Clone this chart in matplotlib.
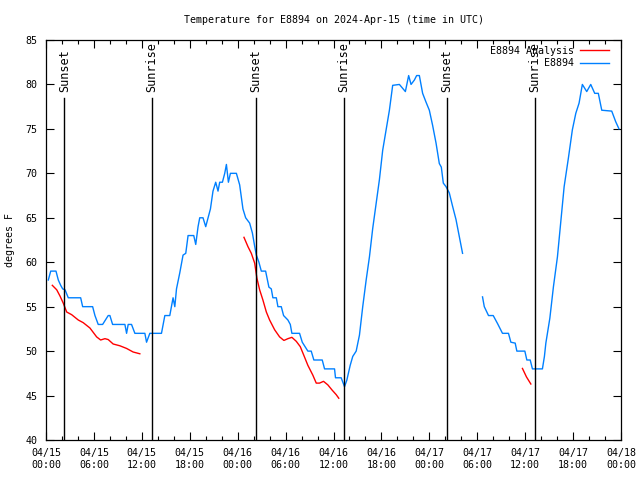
import numpy as np
import matplotlib.pyplot as plt
from matplotlib.ticker import MultipleLocator

# hours since 2024-04-15 00:00 UTC
obs_hours = [0.29, 0.59, 1.25, 1.54, 1.84, 2.09, 2.38, 2.79, 4.34, 4.59, 5.84, 6.13, 6.54,
             7.09, 7.79, 8.0, 8.34, 9.88, 10.09, 10.29, 10.71, 11.13, 12.38, 12.59, 13.0,
             14.46, 14.88, 15.5, 15.91, 16.13, 16.34, 16.75, 17.16, 17.5, 17.79, 18.5, 18.75,
             19.04, 19.25, 19.66, 20.0, 20.29, 20.59, 20.91, 21.25, 21.54, 21.75, 22.09,
             22.38, 22.59, 22.84, 23.09, 23.84, 24.25, 24.66, 25.0, 25.5, 25.84, 26.13,
             26.34, 26.66, 26.96, 27.5, 27.91, 28.21, 28.41, 28.84, 29.04, 29.46, 29.75,
             30.29, 30.59, 30.79, 31.75, 32.09, 32.79, 33.21, 33.54, 34.59, 34.88, 36.13,
             36.25, 36.96, 37.38, 37.66, 38.09, 38.41, 38.84, 39.25, 39.66, 40.09, 40.5,
             40.91, 41.34, 41.75, 42.16, 42.59, 43.0, 43.41, 44.25, 45.0, 45.41, 45.71,
             46.13, 46.41, 46.75, 47.16, 47.59, 48.0, 48.41, 48.84, 49.25, 49.5, 49.75,
             50.09, 50.5, 50.91, 51.34, 51.75, 52.16,
             53.0,
             54.66, 54.88, 55.41, 56.0, 56.54, 57.16, 57.91, 58.21, 58.75, 58.96, 59.96,
             60.21, 60.63, 60.91, 62.16, 62.41, 62.59, 63.09, 63.54, 64.04, 64.54, 64.88,
             65.41, 65.91, 66.34, 66.75, 66.96, 67.16, 67.71, 68.21, 68.71, 69.16, 69.59,
             70.84, 71.34, 71.75]
obs_temps = [58, 59, 59, 58, 57.4, 57, 56.9, 56, 56, 55, 55, 54, 53,
             53, 54, 54, 53, 53, 52, 53, 53, 52, 52, 51, 52,
             52, 54, 54, 56, 55, 57, 58.8, 60.8, 61, 63, 63, 62,
             64, 65, 65, 64, 65, 66, 68, 69, 68, 69, 69,
             70, 71, 69, 70, 70, 68.7, 66, 65, 64.4, 63.3, 61.8,
             60.8, 60, 59, 59, 57.2, 57, 56, 56, 55, 55, 54,
             53.5, 53, 52, 52, 51, 50, 50, 49, 49, 48, 48,
             47, 47, 46, 46.7, 48.4, 49.4, 50, 51.8, 55, 58, 60.6,
             63.8, 66.6, 69.3, 72.6, 74.9, 77.1, 79.9, 80, 79.2, 81, 80,
             80.5, 81, 81, 79, 78, 77.1, 75.4, 73.4, 71.1, 70.7, 68.9,
             68.5, 67.8, 66.3, 64.8, 62.9, 61,
             np.nan,
             56.1, 55, 54, 54, 53.1, 52, 52, 51, 50.9, 50, 50,
             49, 49, 48, 48, 49.4, 50.9, 53.7, 57.25, 60.6, 65.3, 68.5,
             71.7, 74.9, 76.75, 77.9, 79, 80, 79.2, 80, 79, 79, 77.1,
             77, 75.8, 75]

ana_hours = [0.79, 1.34, 1.75, 2.16, 2.59, 3.21, 4.04, 4.66, 5.5, 6.34, 6.84, 7.38, 7.79,
             8.41, 9.25, 10.09, 10.91, 11.75,
             18.0,
             24.79, 25.29, 25.71, 26.13, 26.41, 26.75, 27.16, 27.59, 28.0, 28.63, 29.25,
             29.79, 30.29, 30.79, 31.34, 31.84, 32.25, 32.79, 33.41, 33.84, 34.25, 34.75,
             35.29, 35.84, 36.34, 36.66,
             48.0,
             59.66, 60.16, 60.71]
ana_temps = [57.4, 56.9, 56.2, 55.4, 54.4, 54.1, 53.5, 53.2, 52.6, 51.6, 51.25, 51.4, 51.3,
             50.8, 50.6, 50.3, 49.9, 49.7,
             np.nan,
             62.8, 61.75, 61.0, 59.9, 58.2, 56.9, 55.75, 54.4, 53.5, 52.4, 51.6,
             51.2, 51.4, 51.55, 51.1, 50.5, 49.6, 48.4, 47.3, 46.4, 46.4, 46.6,
             46.2, 45.6, 45.1, 44.7,
             np.nan,
             48.05, 47.1, 46.3]

sunset_hours = [2.3, 26.3, 50.2]
sunrise_hours = [13.3, 37.3, 61.25]

tick_hours = list(range(0, 73, 6))
tick_labels = ['04/15\n00:00', '04/15\n06:00', '04/15\n12:00', '04/15\n18:00',
               '04/16\n00:00', '04/16\n06:00', '04/16\n12:00', '04/16\n18:00',
               '04/17\n00:00', '04/17\n06:00', '04/17\n12:00', '04/17\n18:00',
               '04/18\n00:00']

font = 'DejaVu Sans Mono'
plt.rcParams['font.family'] = font
plt.rcParams['font.size'] = 7.2

fig = plt.figure(figsize=(6.4, 4.8), dpi=100)
ax = fig.add_axes([46 / 640, 40 / 480, 575 / 640, 400 / 480])

ax.plot(ana_hours, ana_temps, color='#ff0000', lw=1.0, label='E8894 Analysis')
ax.plot(obs_hours, obs_temps, color='#0080ff', lw=1.0, label='E8894')

# sunrise / sunset markers
for h in sunset_hours:
    ax.plot([h, h], [0, 0.855], color='black', lw=1.0, transform=ax.get_xaxis_transform())
    ax.text(h, 0.87, 'Sunset', rotation=90, ha='center', va='bottom', fontsize=8.5,
            transform=ax.get_xaxis_transform())
for h in sunrise_hours:
    ax.plot([h, h], [0, 0.855], color='black', lw=1.0, transform=ax.get_xaxis_transform())
    ax.text(h, 0.87, 'Sunrise', rotation=90, ha='center', va='bottom', fontsize=8.5,
            transform=ax.get_xaxis_transform())

ax.set_xlim(0, 72)
ax.set_ylim(40, 85)
ax.set_xticks(tick_hours)
ax.set_xticklabels(tick_labels)
ax.xaxis.set_minor_locator(MultipleLocator(2))
ax.yaxis.set_major_locator(MultipleLocator(5))
ax.tick_params(which='both', direction='in', top=True, right=True, width=0.8)
ax.tick_params(which='major', length=6, pad=6)
ax.tick_params(which='minor', length=3)
for s in ax.spines.values():
    s.set_linewidth(0.9)

ax.set_ylabel('degrees F', labelpad=8)
ax.set_title('Temperature for E8894 on 2024-Apr-15 (time in UTC)', fontsize=7.2, pad=12)

ax.legend(loc='upper right', bbox_to_anchor=(1 - 5 / 575, 1 + 1 / 400), frameon=False,
          markerfirst=False, handlelength=2.9, borderaxespad=0.3, labelspacing=0.25,
          handletextpad=0.6)

fig.savefig('out.png', dpi=100)
